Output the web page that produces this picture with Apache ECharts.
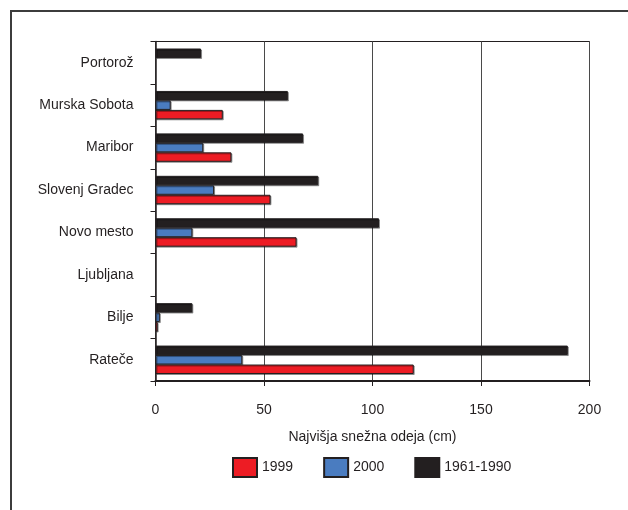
<!DOCTYPE html>
<html>
<head>
<meta charset="utf-8">
<script src="https://cdn.jsdelivr.net/npm/echarts@6/dist/echarts.min.js"></script>
<style>
  html, body { margin: 0; padding: 0; background: #ffffff; }
  #chart { width: 628px; height: 510px; }
</style>
</head>
<body>
<div id="chart"></div>
<script>
// Stations, listed from the bottom of the axis upward
const stations = ['Rateče', 'Bilje', 'Ljubljana', 'Novo mesto', 'Slovenj Gradec', 'Maribor', 'Murska Sobota', 'Portorož'];

// Highest snow cover (cm); null = no value
const snow1999 = [119, 1, null, 65, 53, 35, 31, null];
const snow2000 = [40, 2, null, 17, 27, 22, 7, null];
const snow1961_1990 = [190, 17, null, 103, 75, 68, 61, 21];

const xTicks = { min: 0, max: 200, interval: 50 };
const seriesNames = ['1999', '2000', '1961-1990'];

const FONT = '"Liberation Sans", Arial, Helvetica, sans-serif';
const INK = '#231f20';

function barSeries(name, data, color) {
  return {
    name: name,
    type: 'bar',
    data: data,
    barGap: '0%',
    barCategoryGap: '33%',
    itemStyle: {
      color: color,
      borderColor: INK,
      borderWidth: 1,
      shadowColor: 'rgba(0,0,0,0.35)',
      shadowOffsetX: 1,
      shadowOffsetY: 1,
      shadowBlur: 0
    },
    emphasis: { disabled: true }
  };
}

const chart = echarts.init(document.getElementById('chart'), null, { renderer: 'canvas' });

chart.setOption({
  animation: false,
  backgroundColor: '#ffffff',
  textStyle: { fontFamily: FONT },
  graphic: [{
    type: 'rect',
    shape: { x: 11, y: 11, width: 700, height: 600 },
    style: { fill: 'none', stroke: '#3c3c3c', lineWidth: 2 },
    silent: true
  }],
  grid: {
    left: 155.5,
    right: 38.5,
    top: 41.5,
    bottom: 129,
    show: true,
    borderColor: INK,
    borderWidth: 1,
    backgroundColor: 'transparent'
  },
  legend: {
    data: seriesNames,
    icon: 'rect',
    left: 232,
    top: 457,
    padding: 0,
    itemWidth: 24,
    itemHeight: 19,
    itemGap: 30,
    textStyle: { fontSize: 14, color: INK, fontFamily: FONT },
    selectedMode: false
  },
  xAxis: {
    type: 'value',
    min: xTicks.min,
    max: xTicks.max,
    interval: xTicks.interval,
    name: 'Najvišja snežna odeja (cm)',
    nameLocation: 'middle',
    nameGap: 49,
    nameTextStyle: { fontSize: 14, color: INK, fontFamily: FONT },
    axisLine: { show: true, onZero: false, lineStyle: { color: INK, width: 2 } },
    axisTick: { show: true, inside: false, length: 5, lineStyle: { color: INK, width: 1 } },
    axisLabel: { fontSize: 14, color: INK, margin: 22, fontFamily: FONT },
    splitLine: { show: true, lineStyle: { color: '#4a4a4a', width: 1 } }
  },
  yAxis: {
    type: 'category',
    data: stations,
    axisLine: { show: true, lineStyle: { color: INK, width: 1.5 } },
    axisTick: { show: true, inside: false, length: 5, alignWithLabel: false, lineStyle: { color: INK, width: 1 } },
    axisLabel: { fontSize: 14, color: INK, margin: 22, fontFamily: FONT },
    splitLine: { show: false }
  },
  // Within each band the first series sits on top, so the long-term
  // average is listed first and 1999 last (legend order is set above).
  series: [
    barSeries(seriesNames[2], snow1961_1990, '#231f20'),
    barSeries(seriesNames[1], snow2000, '#4a7cc0'),
    barSeries(seriesNames[0], snow1999, '#ed1c24')
  ]
});
</script>
</body>
</html>
